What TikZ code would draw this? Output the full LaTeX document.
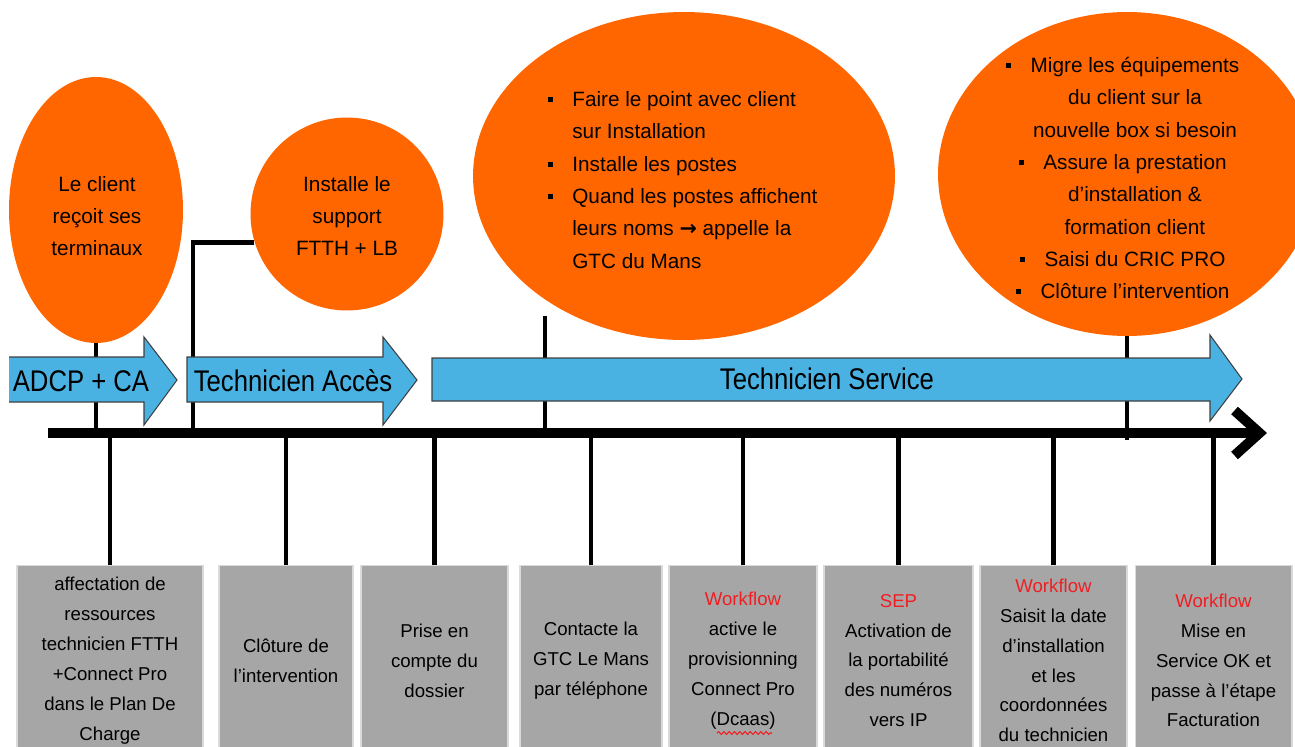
\documentclass[tikz,border=0pt]{standalone}
\usepackage{fontspec}
\setmainfont{Liberation Sans}
\newfontfamily\arrowfont{Liberation Sans}[FakeStretch=0.86]
\newfontfamily\symfont{DejaVu Sans}
\usetikzlibrary{shapes.geometric,arrows.meta,decorations.pathmorphing}
\definecolor{orng}{HTML}{FF6600}
\definecolor{blu}{HTML}{4AB2E3}
\definecolor{gry}{HTML}{A6A6A6}
\definecolor{gryedge}{HTML}{DADADA}
\definecolor{wfred}{HTML}{F01E23}
\newcommand\sqb{\rule[0.22em]{2.8pt}{2.8pt}}
\newcommand\bul{\llap{\sqb\hspace{11pt}}}
\newcommand\wf{\textcolor{wfred}{Workflow}}
\begin{document}
\begin{tikzpicture}[x=0.02cm,y=-0.02cm,
  blob/.style={ellipse, fill=orng, draw=none, inner sep=0pt},
  etext/.style={font=\fontsize{11.8}{18.4}\selectfont, inner sep=0pt},
  phase/.style={fill=blu, draw=black!75, line width=0.6pt, line join=miter},
  plabel/.style={font=\arrowfont\fontsize{17}{20}\selectfont, inner sep=0pt},
  task/.style={rectangle, fill=gry, draw=gryedge, line width=0.6pt, inner sep=0pt, align=center, font=\fontsize{10.6}{17}\selectfont, minimum height=3.8cm, anchor=north},
  link/.style={line width=2.8pt},
  axis/.style={line width=5.7pt, -{Straight Barb[length=0.5cm,width=0.9cm]}}
]
\useasboundingbox (0,0) rectangle (1295,747);

% ellipses
\node[blob, minimum width=3.48cm, minimum height=5.32cm] (e1) at (96,210) {};
\node[blob, minimum width=3.86cm, minimum height=3.86cm] (e2) at (347,214) {};
\node[blob, minimum width=8.44cm, minimum height=6.56cm] (e3) at (684,176) {};
\node[blob, minimum width=7.56cm, minimum height=6.48cm] (e4) at (1127,174) {};

\node[etext, align=center] (t1) at (97,216) {Le client\\reçoit ses\\terminaux};
\node[etext, align=center] (t2) at (347,216) {Installe le\\support\\FTTH + LB};
\node[etext, align=left, anchor=west] (t3) at (572,180) {\bul Faire le point avec client\\sur Installation\\\bul Installe les postes\\\bul Quand les postes affichent\\leurs noms {\symfont\bfseries →} appelle la\\GTC du Mans};
\node[etext, align=center] (t4) at (1135,178) {\bul Migre les équipements\\du client sur la\\nouvelle box si besoin\\\bul Assure la prestation\\d’installation \&\\formation client\\\bul Saisi du CRIC PRO\\\bul Clôture l’intervention};

% timeline coordinates
\coordinate (a0) at (48,433);
\coordinate (a1) at (1267,433);

% links from ellipses
\draw[link] (e1.south) -- (e1.south |- a0);
\coordinate (k2) at (193,433);
\draw[link] (e2.197) -| (k2);
\coordinate (k3) at (545,316);
\draw[link] (k3) -- (k3 |- a0);
\coordinate (k4) at (1128,440);
\draw[link] (e4.south) -- (e4.south |- k4);

% boxes
\node[task, minimum width=3.72cm] (b1) at (110,565) {affectation de\\ressources\\technicien FTTH\\+Connect Pro\\dans le Plan De\\Charge};
\node[task, minimum width=2.68cm] (b2) at (286,565) {Clôture de\\l’intervention};
\node[task, minimum width=2.94cm] (b3) at (434.5,565) {Prise en\\compte du\\dossier};
\node[task, minimum width=2.84cm] (b4) at (591,565) {Contacte la\\GTC Le Mans\\par téléphone};
\node[task, minimum width=2.96cm] (b5) at (743,565) {\wf\\active le\\provisionning\\Connect Pro\\(Dcaas)};
\node[task, minimum width=2.98cm] (b6) at (898.5,565) {\textcolor{wfred}{SEP}\\Activation de\\la portabilité\\des numéros\\vers IP};
\node[task, minimum width=2.94cm] (b7) at (1053.5,565) {\wf\\Saisit la date\\d’installation\\et les\\coordonnées\\du technicien};
\node[task, minimum width=3.14cm] (b8) at (1213.5,565) {\wf\\Mise en\\Service OK et\\passe à l’étape\\Facturation};

\foreach \b in {b1,b2,b3,b4,b5,b6,b7,b8}
  \draw[link] (\b.north) -- (\b.north |- a0);

\draw[wfred, line width=0.6pt, decorate, decoration={snake, amplitude=0.8pt, segment length=3pt}] (717,733) -- (772,733);

% timeline
\draw[axis] (a0) -- (a1);

% phase arrows
\path[fill=blu] (9,357) -- (144,357) -- (144,337) -- (177,380) -- (144,425) -- (144,402) -- (9,402) -- cycle;
\draw[phase, fill=none] (9,357) -- (144,357) -- (144,337) -- (177,380) -- (144,425) -- (144,402) -- (9,402);
\node[plabel] (p1) at (81,381) {ADCP + CA};

\draw[phase] (187,357) -- (383,357) -- (383,337) -- (417,380) -- (383,425) -- (383,402) -- (187,402) -- cycle;
\node[plabel] (p2) at (293,381) {Technicien Accès};

\draw[phase] (432,358) -- (1210,358) -- (1210,335) -- (1242,379) -- (1210,421) -- (1210,401) -- (432,401) -- cycle;
\node[plabel] (p3) at (827,379) {Technicien Service};
\end{tikzpicture}
\end{document}
